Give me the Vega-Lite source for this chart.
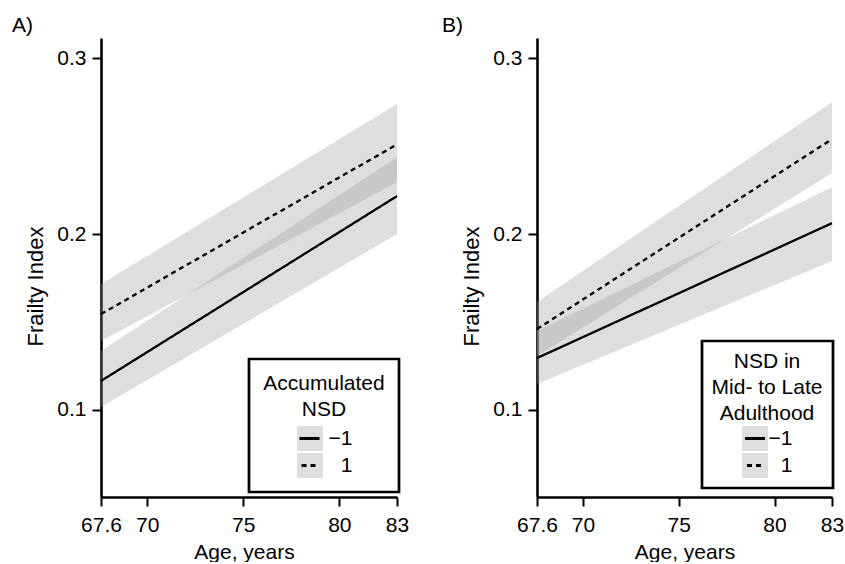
{
  "$schema": "https://vega.github.io/schema/vega-lite/v6.json",
  "padding": {"left": 12, "top": 15, "right": 0, "bottom": 0},
  "background": "white",
  "datasets": {
    "a": [
      {"age": 67.6, "nsd": "−1", "fi": 0.1165, "lo": 0.1017, "hi": 0.1335},
      {"age": 83, "nsd": "−1", "fi": 0.2216, "lo": 0.2000, "hi": 0.2437},
      {"age": 67.6, "nsd": "1", "fi": 0.1545, "lo": 0.1392, "hi": 0.1716},
      {"age": 83, "nsd": "1", "fi": 0.2510, "lo": 0.2295, "hi": 0.2739}
    ],
    "b": [
      {"age": 67.6, "nsd": "−1", "fi": 0.1295, "lo": 0.1148, "hi": 0.1449},
      {"age": 83, "nsd": "−1", "fi": 0.2062, "lo": 0.1847, "hi": 0.2267},
      {"age": 67.6, "nsd": "1", "fi": 0.1460, "lo": 0.1307, "hi": 0.1614},
      {"age": 83, "nsd": "1", "fi": 0.2540, "lo": 0.2347, "hi": 0.2750}
    ]
  },
  "config": {
    "font": "Liberation Sans",
    "view": {"stroke": null},
    "axis": {
      "domainColor": "black", "domainWidth": 2.6, "tickColor": "black", "tickWidth": 2, "tickSize": 9,
      "labelFontSize": 21, "labelColor": "black", "labelFont": "Liberation Sans",
      "titleFontSize": 21, "titleFontWeight": "normal", "titleColor": "black", "titleFont": "Liberation Sans",
      "grid": false, "labelFlush": false, "labelOverlap": false, "labelBound": false
    },
    "legend": {
      "orient": "none",
      "titleFont": "Liberation Sans", "titleFontSize": 21, "titleFontWeight": "normal", "titleColor": "black",
      "titleAnchor": "middle", "titleAlign": "center", "titleLimit": 400,
      "labelFont": "Liberation Sans", "labelFontSize": 21, "labelColor": "black", "labelAlign": "right",
      "rowPadding": 2, "clipHeight": 25, "strokeWidth": 2.7
    },
    "title": {"fontSize": 21, "fontWeight": "normal", "color": "black", "anchor": "start", "frame": "group", "baseline": "alphabetic", "offset": 2, "font": "Liberation Sans"}
  },
  "bounds": "flush",
  "spacing": 140,
  "resolve": {
    "scale": {"fill": "independent", "strokeDash": "independent"},
    "legend": {"fill": "independent", "strokeDash": "independent"}
  },
  "hconcat": [
    {
      "width": 296, "height": 459,
      "title": {"text": "A)", "dx": -89},
      "data": {"name": "a"},
      "layer": [
        {
          "mark": {"type": "area", "opacity": 0.35},
          "encoding": {
            "x": {"field": "age", "type": "quantitative", "scale": {"domain": [67.6, 83], "nice": false, "zero": false},
                  "axis": {"values": [67.6, 70, 75, 80, 83], "format": ".3~g", "title": "Age, years", "labelPadding": 8, "titlePadding": 6, "titleX": 143}},
            "y": {"field": "lo", "type": "quantitative", "scale": {"domain": [0.0505, 0.3115], "nice": false, "zero": false},
                  "axis": {"values": [0.1, 0.2, 0.3], "format": ".1f", "title": "Frailty Index", "titleFontSize": 22, "titleY": 248, "labelPadding": 6, "titlePadding": 9}},
            "y2": {"field": "hi"},
            "fill": {"field": "nsd", "type": "nominal", "scale": {"domain": ["−1", "1"], "range": ["#a0a0a0", "#a0a0a0"]},
                     "legend": {"title": ["Accumulated", "NSD"], "legendX": 148, "legendY": 321, "padding": 14, "titleLineHeight": 25.5, "titlePadding": 6.5, "symbolType": "square", "symbolSize": 676, "symbolStrokeWidth": 0, "symbolOffset": 1, "labelOffset": 29.5, "titleOpacity": 0, "labelOpacity": 0, "fillColor": "white", "strokeColor": "black", "zindex": 0}}
          }
        },
        {
          "mark": {"type": "line", "color": "black", "strokeWidth": 2.3},
          "encoding": {
            "x": {"field": "age", "type": "quantitative", "title": "Age, years"},
            "y": {"field": "fi", "type": "quantitative", "title": "Frailty Index"},
            "strokeDash": {"field": "nsd", "type": "nominal", "sort": "descending", "scale": {"range": [[1, 0], [5, 4]]},
                           "legend": {"title": ["Accumulated", "NSD"], "legendX": 148, "legendY": 321, "padding": 14, "titleLineHeight": 25.5, "titlePadding": 6.5, "symbolType": "stroke", "symbolSize": 400, "symbolStrokeWidth": 3, "symbolStrokeColor": "black", "symbolDashOffset": 7, "symbolOffset": 2, "labelOffset": 31.5, "zindex": 1}}
          }
        }
      ]
    },
    {
      "width": 295, "height": 459,
      "title": {"text": "B)", "dx": -95},
      "data": {"name": "b"},
      "layer": [
        {
          "mark": {"type": "area", "opacity": 0.35},
          "encoding": {
            "x": {"field": "age", "type": "quantitative", "scale": {"domain": [67.6, 83], "nice": false, "zero": false},
                  "axis": {"values": [67.6, 70, 75, 80, 83], "format": ".3~g", "title": "Age, years", "labelPadding": 8, "titlePadding": 6}},
            "y": {"field": "lo", "type": "quantitative", "scale": {"domain": [0.0505, 0.3115], "nice": false, "zero": false},
                  "axis": {"values": [0.1, 0.2, 0.3], "format": ".1f", "title": "Frailty Index", "titleFontSize": 22, "titleY": 248, "labelPadding": 6, "titlePadding": 9}},
            "y2": {"field": "hi"},
            "fill": {"field": "nsd", "type": "nominal", "scale": {"domain": ["−1", "1"], "range": ["#a0a0a0", "#a0a0a0"]},
                     "legend": {"title": ["NSD in", "Mid- to Late", "Adulthood"], "legendX": 165, "legendY": 303, "padding": 10, "titleLineHeight": 26, "titlePadding": 2, "symbolType": "square", "symbolSize": 676, "symbolStrokeWidth": 0, "symbolOffset": 0, "labelOffset": 24.5, "titleOpacity": 0, "labelOpacity": 0, "fillColor": "white", "strokeColor": "black", "zindex": 0}}
          }
        },
        {
          "mark": {"type": "line", "color": "black", "strokeWidth": 2.3},
          "encoding": {
            "x": {"field": "age", "type": "quantitative", "title": "Age, years"},
            "y": {"field": "fi", "type": "quantitative", "title": "Frailty Index"},
            "strokeDash": {"field": "nsd", "type": "nominal", "sort": "descending", "scale": {"range": [[1, 0], [5, 4]]},
                           "legend": {"title": ["NSD in", "Mid- to Late", "Adulthood"], "legendX": 165, "legendY": 303, "padding": 10, "titleLineHeight": 26, "titlePadding": 2, "symbolType": "stroke", "symbolSize": 400, "symbolStrokeWidth": 3, "symbolStrokeColor": "black", "symbolDashOffset": 7, "symbolOffset": 1.5, "labelOffset": 26, "zindex": 1}}
          }
        }
      ]
    }
  ]
}
